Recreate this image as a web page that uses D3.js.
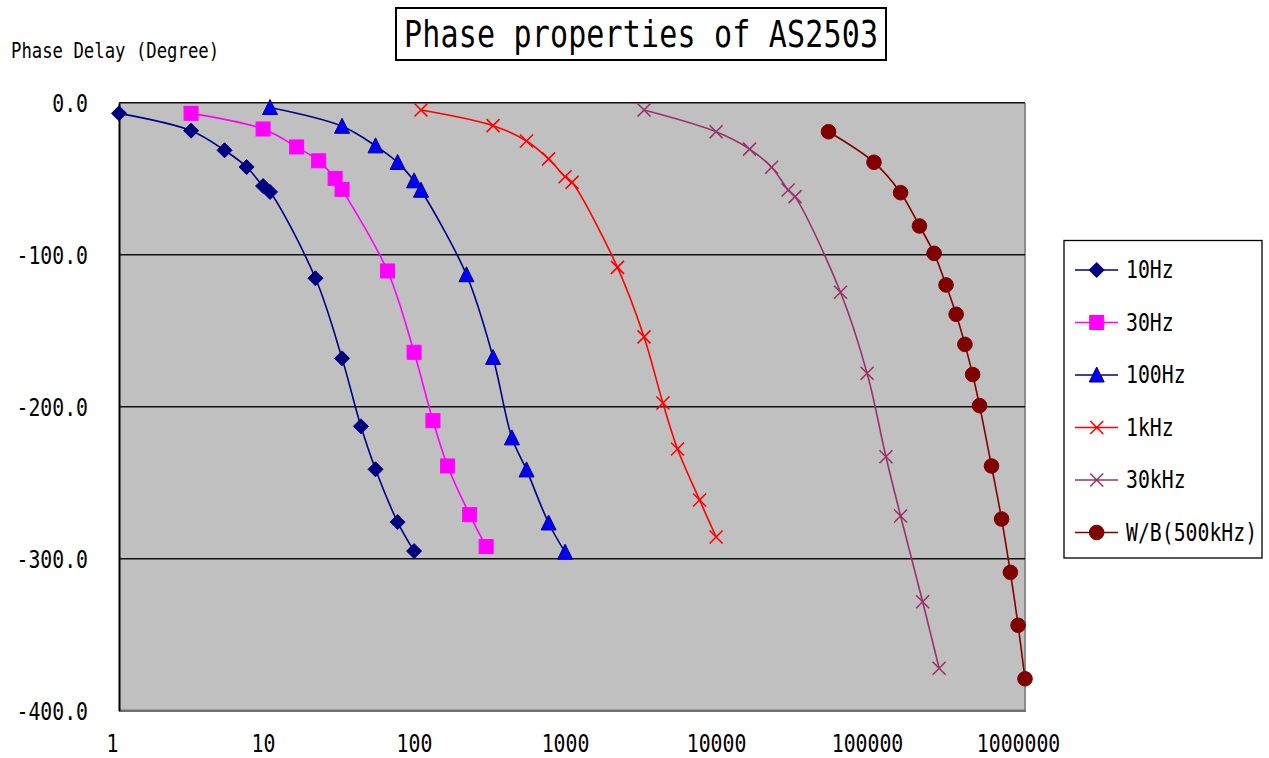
<!DOCTYPE html>
<html>
<head>
<meta charset="utf-8">
<script src="https://cdn.jsdelivr.net/npm/d3@7"></script>
<style>
  html, body { margin: 0; padding: 0; background: #fff; }
  svg { display: block; }
  text { font-family: "DejaVu Sans Mono", "Liberation Mono", monospace; fill: #000; }
</style>
</head>
<body>
<svg id="chart" width="1269" height="758"></svg>
<script>
// ---- data ----
const xTickValues = [1, 10, 100, 1000, 10000, 100000, 1000000];
const yTickValues = [0, -100, -200, -300, -400];

const freq10Hz  = [1, 3, 5, 7, 9, 10, 20, 30, 40, 50, 70, 90];
const phase10Hz = [-7.0, -18.4, -31.3, -42.3, -54.8, -58.7, -115.5, -168.2, -212.9, -241.2, -275.9, -295.0];

const freq30Hz  = [3, 9, 15, 21, 27, 30, 60, 90, 120, 150, 210, 270];
const phase30Hz = [-7.0, -17.3, -29.1, -38.2, -49.8, -57.0, -110.7, -164.2, -209.2, -239.0, -271.0, -292.0];

const freq100Hz  = [10, 30, 50, 70, 90, 100, 200, 300, 400, 500, 700, 900];
const phase100Hz = [-3.2, -15.5, -28.4, -39.3, -51.4, -57.6, -113.2, -167.6, -220.5, -241.6, -276.5, -295.7];

const freq1kHz  = [100, 300, 500, 700, 900, 1000, 2000, 3000, 4000, 5000, 7000, 9000];
const phase1kHz = [-4.8, -15.1, -25.2, -37.0, -48.7, -52.4, -108.3, -154.1, -197.6, -227.8, -261.4, -285.7];

const freq30kHz  = [3000, 9000, 15000, 21000, 27000, 30000, 60000, 90000, 120000, 150000, 210000, 270000];
const phase30kHz = [-4.8, -19.1, -30.5, -42.5, -57.4, -61.8, -124.7, -178.0, -232.9, -271.9, -328.3, -372.1];

const freqWB  = [50000, 100000, 150000, 200000, 250000, 300000, 350000, 400000, 450000, 500000, 600000, 700000, 800000, 900000, 1000000];
const phaseWB = [-19.1, -39.2, -59.2, -81.1, -99.1, -119.9, -139.2, -159.0, -178.8, -199.3, -239.0, -273.9, -309.0, -343.8, -379.0];

const seriesNames = ["10Hz", "30Hz", "100Hz", "1kHz", "30kHz", "W/B(500kHz)"];

// ---- styles ----
const series = [
  { name: seriesNames[0], f: freq10Hz,  p: phase10Hz,  line: "#000080", fill: "#000080", stroke: "#000080", marker: "diamond" },
  { name: seriesNames[1], f: freq30Hz,  p: phase30Hz,  line: "#FF00FF", fill: "#FF00FF", stroke: "#FF00FF", marker: "square" },
  { name: seriesNames[2], f: freq100Hz, p: phase100Hz, line: "#000080", fill: "#0000FF", stroke: "#000080", marker: "triangle" },
  { name: seriesNames[3], f: freq1kHz,  p: phase1kHz,  line: "#FF0000", fill: "none",    stroke: "#FF0000", marker: "x" },
  { name: seriesNames[4], f: freq30kHz, p: phase30kHz, line: "#993366", fill: "none",    stroke: "#993366", marker: "x" },
  { name: seriesNames[5], f: freqWB,    p: phaseWB,    line: "#800000", fill: "#800000", stroke: "#800000", marker: "circle" }
];

const svg = d3.select("#chart");
const plot = { left: 119, top: 102.7, right: 1025, bottom: 710.7 };
const TS = 1.22; // vertical text stretch

const x = d3.scaleLog().domain([1, 1000000]).range([plot.left, plot.right]);
const y = d3.scaleLinear().domain([0, -400]).range([plot.top, plot.bottom]);

// plot background
svg.append("rect")
  .attr("x", plot.left).attr("y", plot.top)
  .attr("width", plot.right - plot.left).attr("height", plot.bottom - plot.top)
  .attr("fill", "#C0C0C0");
// right and bottom borders
svg.append("line").attr("x1", plot.right).attr("x2", plot.right)
  .attr("y1", plot.top).attr("y2", plot.bottom + 1)
  .attr("stroke", "#8c8c8c").attr("stroke-width", 2);
svg.append("line").attr("x1", plot.left).attr("x2", plot.right + 1)
  .attr("y1", plot.bottom).attr("y2", plot.bottom)
  .attr("stroke", "#707070").attr("stroke-width", 2.5);

// gridlines
svg.append("g").selectAll("line")
  .data(yTickValues.filter(v => v > -400))
  .join("line")
  .attr("x1", plot.left).attr("x2", plot.right)
  .attr("y1", d => y(d)).attr("y2", d => y(d))
  .attr("stroke", "#111").attr("stroke-width", 1.6);

// y axis
const yAxis = svg.append("g")
  .attr("transform", `translate(${plot.left},0)`)
  .call(d3.axisLeft(y).tickValues(yTickValues).tickSize(0).tickPadding(31)
    .tickFormat(d => d.toFixed(1)));
yAxis.select(".domain").attr("stroke", "#000").attr("stroke-width", 2);
yAxis.selectAll("text")
  .attr("font-family", "DejaVu Sans Mono").attr("font-size", 19.8)
  .attr("fill", "#000")
  .attr("dy", null).attr("y", 0)
  .attr("dominant-baseline", "central")
  .attr("transform", `scale(1,${TS})`);
yAxis.selectAll(".tick text").each(function(d) {
  d3.select(this).attr("y", 1 / TS);
});

// x axis (labels only)
const xAxis = svg.append("g")
  .attr("transform", `translate(0,${plot.bottom})`)
  .call(d3.axisBottom(x).tickValues(xTickValues).tickSize(0)
    .tickFormat(d3.format("d")));
xAxis.select(".domain").remove();
xAxis.selectAll("text")
  .attr("font-family", "DejaVu Sans Mono").attr("font-size", 19.8)
  .attr("fill", "#000")
  .attr("dy", null)
  .attr("y", (744 - plot.bottom) / TS)
  .attr("x", -7)
  .attr("dominant-baseline", "central")
  .attr("transform", `scale(1,${TS})`);

// markers
function drawMarker(g, type, fill, stroke) {
  if (type === "diamond") {
    g.append("path").attr("d", "M0,-7.5L7.5,0L0,7.5L-7.5,0Z").attr("fill", fill).attr("stroke", stroke).attr("stroke-width", 1);
  } else if (type === "square") {
    g.append("rect").attr("x", -7).attr("y", -7).attr("width", 14).attr("height", 14).attr("fill", fill).attr("stroke", stroke).attr("stroke-width", 1);
  } else if (type === "triangle") {
    g.append("path").attr("d", "M0,-8L7.5,7L-7.5,7Z").attr("fill", fill).attr("stroke", stroke).attr("stroke-width", 1);
  } else if (type === "circle") {
    g.append("circle").attr("r", 7.3).attr("fill", fill).attr("stroke", stroke).attr("stroke-width", 1);
  } else if (type === "x") {
    g.append("path").attr("d", "M-6.5,-6.5L6.5,6.5M6.5,-6.5L-6.5,6.5").attr("fill", "none").attr("stroke", stroke).attr("stroke-width", 1.6);
  }
}

const lineGen = d3.line()
  .x(d => x(d[0])).y(d => y(d[1]))
  .curve(d3.curveCatmullRom.alpha(0.5));

series.forEach(s => {
  const pts = s.f.map((f, i) => [f, s.p[i]]);
  svg.append("path").datum(pts)
    .attr("d", lineGen)
    .attr("fill", "none")
    .attr("stroke", s.line)
    .attr("stroke-width", 1.6);
  const mg = svg.append("g");
  pts.forEach(p => {
    const g = mg.append("g").attr("transform", `translate(${x(p[0])},${y(p[1])})`);
    drawMarker(g, s.marker, s.fill, s.stroke);
  });
});

// legend
const legend = svg.append("g");
legend.append("rect")
  .attr("x", 1064).attr("y", 240.5).attr("width", 198).attr("height", 317.5)
  .attr("fill", "#fff").attr("stroke", "#000").attr("stroke-width", 1.3);
series.forEach((s, i) => {
  const cy = 270 + i * 52.5;
  const g = legend.append("g");
  g.append("line").attr("x1", 1075).attr("x2", 1118).attr("y1", cy).attr("y2", cy)
    .attr("stroke", s.line).attr("stroke-width", 1.6);
  const mg = g.append("g").attr("transform", `translate(1096.7,${cy})`);
  drawMarker(mg, s.marker, s.fill, s.stroke);
  g.append("text")
    .attr("x", 1126).attr("y", cy / TS)
    .attr("transform", `scale(1,${TS})`)
    .attr("dominant-baseline", "central")
    .attr("font-size", 19.8)
    .text(s.name);
});

// axis title
svg.append("text")
  .attr("x", 11).attr("y", 51 / TS)
  .attr("transform", `scale(1,${TS})`)
  .attr("dominant-baseline", "central")
  .attr("font-size", 17.3)
  .text("Phase Delay (Degree)");

// chart title
svg.append("rect")
  .attr("x", 396).attr("y", 8).attr("width", 490).attr("height", 52)
  .attr("fill", "#fff").attr("stroke", "#000").attr("stroke-width", 2);
svg.append("text")
  .attr("x", 641).attr("y", 34 / TS)
  .attr("transform", `scale(1,${TS})`)
  .attr("text-anchor", "middle")
  .attr("dominant-baseline", "central")
  .attr("font-size", 30)
  .attr("textLength", 474)
  .text("Phase properties of AS2503");
</script>
</body>
</html>
